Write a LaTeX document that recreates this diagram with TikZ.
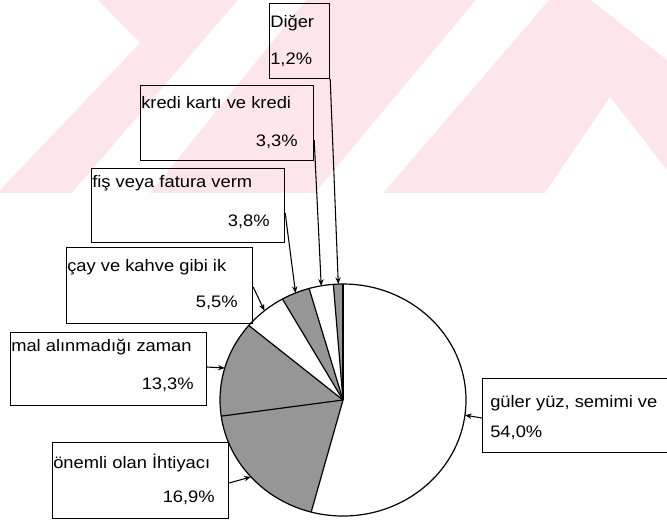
\documentclass[tikz,border=0pt]{standalone}
\usepackage{fontspec}
\setmainfont{Liberation Sans}[FakeStretch=1.1]
\usetikzlibrary{arrows.meta}
\definecolor{wmpink}{RGB}{252,230,234}
\definecolor{slicegray}{RGB}{150,150,150}
\tikzset{
  lbox/.style={draw, line width=0.9pt, inner sep=0pt, anchor=north west},
  ltxt/.style={inner sep=0pt, font=\fontsize{12.5}{14}\selectfont},
  lead/.style={->, line width=0.8pt},
  >={Stealth[length=5pt, width=4pt]}
}
\begin{document}
\begin{tikzpicture}[x=0.75pt, y=-0.75pt]
\useasboundingbox (0,0) rectangle (667,526);
\clip (0,0) rectangle (667,526);
% watermark
\fill[wmpink] (0,0) rectangle (667,193);
\fill[white] (0,0) -- (98,0) -- (140,43) -- (0,190) -- cycle;
\fill[white] (72,193) -- (150,193) -- (306,0) -- (238,0) -- cycle;
\fill[white] (315,193) -- (383,193) -- (549,0) -- (476,0) -- cycle;
\fill[white] (545,193) -- (610,97) -- (667,170) -- (667,193) -- cycle;
\fill[white] (591,0) -- (667,0) -- (667,60) -- cycle;

% pie, slices counter clockwise from the top
\begin{scope}[shift={(343,400)}, x=0.75pt*123, y=0.75pt*116]
\coordinate (c) at (0,0);
\fill[slicegray] (c) -- (90:1) arc (90:94.5:1) -- cycle;
\fill[slicegray] (c) -- (106:1) arc (106:119.5:1) -- cycle;
\fill[slicegray] (c) -- (140:1) arc (140:188:1) -- cycle;
\fill[slicegray] (c) -- (188:1) arc (188:255:1) -- cycle;
\draw[line width=0.9pt] (c) circle (1);
\foreach \a in {90,94.5,106,119.5,140,188,255}
  \draw[line width=0.9pt] (c) -- (\a:1);
\coordinate (pdg) at (92.2:1);
\coordinate (pkr) at (100.2:1);
\coordinate (pfs) at (112.7:1);
\coordinate (pcy) at (129.7:1);
\coordinate (pml) at (164:1);
\coordinate (pon) at (221.5:1);
\coordinate (pgu) at (352.5:1);
\end{scope}

% labels
\node[lbox, minimum width=60*0.75pt, minimum height=75*0.75pt] (dg) at (269,3) {};
\node[ltxt, anchor=west] at (270,23) {Diğer};
\node[ltxt, anchor=west] at (270,60) {1,2\%};

\node[lbox, minimum width=173*0.75pt, minimum height=75*0.75pt] (kr) at (140,85) {};
\node[ltxt, anchor=west] at (141,103) {kredi kartı ve kredi};
\node[ltxt, anchor=east] at (298,142) {3,3\%};

\node[lbox, minimum width=193*0.75pt, minimum height=74*0.75pt] (fs) at (91,168) {};
\node[ltxt, anchor=west] at (92,183) {fiş veya fatura verm};
\node[ltxt, anchor=east] at (270,222) {3,8\%};

\node[lbox, minimum width=186*0.75pt, minimum height=76*0.75pt] (cy) at (66,247) {};
\node[ltxt, anchor=west] at (67,267) {çay ve kahve gibi ik};
\node[ltxt, anchor=east] at (238,303) {5,5\%};

\node[lbox, minimum width=196*0.75pt, minimum height=73*0.75pt] (ml) at (10,332) {};
\node[ltxt, anchor=west] at (11,347) {mal alınmadığı zaman};
\node[ltxt, anchor=east] at (194,385) {13,3\%};

\node[lbox, minimum width=176*0.75pt, minimum height=76*0.75pt] (on) at (52,442) {};
\node[ltxt, anchor=west] at (53,463) {önemli olan İhtiyacı};
\node[ltxt, anchor=east] at (215,498) {16,9\%};

\node[lbox, minimum width=200*0.75pt, minimum height=74*0.75pt] (gu) at (482,378) {};
\node[ltxt, anchor=west] at (490,403) {güler yüz, semimi ve};
\node[ltxt, anchor=west] at (490,433) {54,0\%};

% leaders
\draw[lead] (dg.south east) -- (pdg);
\draw[lead] ([yshift=-55*0.75pt]kr.north east) -- (pkr);
\draw[lead] ([yshift=-45*0.75pt]fs.north east) -- (pfs);
\draw[lead] ([yshift=-40*0.75pt]cy.north east) -- (pcy);
\draw[lead] ([yshift=-35*0.75pt]ml.north east) -- (pml);
\draw[lead] ([yshift=-41*0.75pt]on.north east) -- (pon);
\draw[lead] ([yshift=-40*0.75pt]gu.north west) -- (pgu);
\end{tikzpicture}
\end{document}
